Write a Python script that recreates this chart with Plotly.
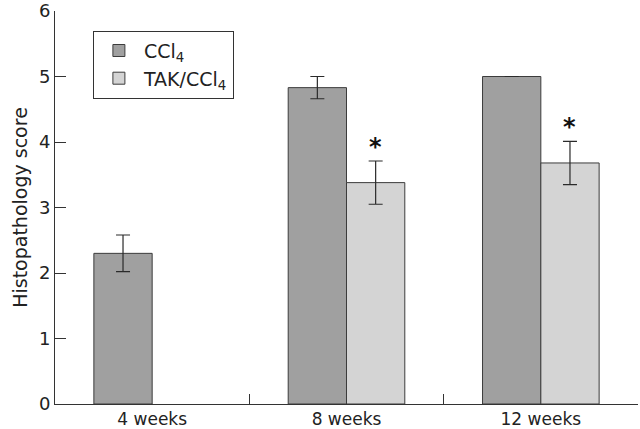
import plotly.graph_objects as go

categories = ["4 weeks", "8 weeks", "12 weeks"]
ccl4 = [2.3, 4.83, 5.0]
ccl4_err = [0.28, 0.17, 0.0]
tak = [None, 3.38, 3.68]
tak_err = [None, 0.33, 0.33]
significant = [False, True, True]

FONT = "DejaVu Sans"
fig = go.Figure()
fig.add_trace(go.Bar(
    x=categories, y=ccl4, name="CCl<sub>4</sub>",
    marker=dict(color="#a0a0a0", line=dict(color="#3c3c3c", width=1)),
    error_y=dict(type="data", array=ccl4_err, color="#2a2a2a", thickness=1.2, width=7),
))
fig.add_trace(go.Bar(
    x=categories, y=tak, name="TAK/CCl<sub>4</sub>",
    marker=dict(color="#d4d4d4", line=dict(color="#3c3c3c", width=1)),
    error_y=dict(type="data", array=tak_err, color="#2a2a2a", thickness=1.2, width=7),
))

for c, v, e, s in zip(categories, tak, tak_err, significant):
    if s:
        fig.add_annotation(x=c, y=v + e, xref="x", yref="y", text="<b>*</b>",
                           showarrow=False, xshift=29, yanchor="bottom", yshift=-2,
                           font=dict(family=FONT, size=24, color="#111"))

fig.update_layout(
    width=640, height=429,
    margin=dict(l=55, r=2, t=11, b=25, autoexpand=False),
    plot_bgcolor="white", paper_bgcolor="white",
    barmode="group", bargap=0.4, bargroupgap=0,
    font=dict(family=FONT, size=17, color="#222"),
    showlegend=True,
    legend=dict(x=0.065, y=0.95, xanchor="left", yanchor="top",
                bordercolor="#333", borderwidth=1, bgcolor="white",
                font=dict(family=FONT, size=19, color="#222"),
                tracegroupgap=2, itemwidth=40),
    xaxis=dict(showline=True, linecolor="#333", linewidth=1,
               ticks="inside", tickson="boundaries", ticklen=10, tickcolor="#333",
               showgrid=False, tickfont=dict(size=17), automargin=False),
    yaxis=dict(range=[0, 6], tickvals=[0, 1, 2, 3, 4, 5, 6], showline=True,
               linecolor="#333", linewidth=1, ticklabeloverflow="allow",
               ticks="inside", ticklen=11, tickcolor="#333", showgrid=False,
               zeroline=False, tickfont=dict(size=18), automargin=False,
               title=dict(text="Histopathology score", font=dict(size=19), standoff=6)),
)

fig.write_html("out.html", post_script="document.body.style.margin='0';",
               config={"displayModeBar": False})
